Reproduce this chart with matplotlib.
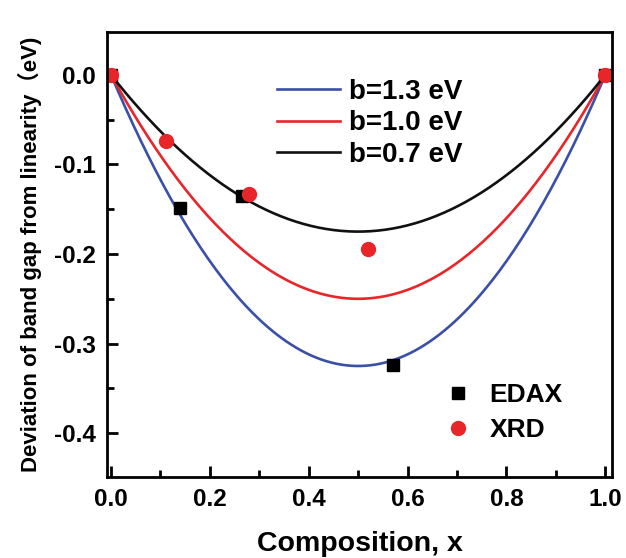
import numpy as np
import matplotlib
matplotlib.use("Agg")
import matplotlib.pyplot as plt
from matplotlib.ticker import MultipleLocator

plt.rcParams['font.family'] = ['Liberation Sans', 'Noto Sans CJK SC', 'DejaVu Sans']
plt.rcParams['font.weight'] = 'bold'

# bowing parameters (eV) for the model curves  dE = -b x (1 - x)
bowing = [1.3, 1.0, 0.7]
curve_labels = ["b=1.3 eV", "b=1.0 eV", "b=0.7 eV"]
curve_colors = ["#3a4fa8", "#e8262a", "#111111"]

edax_x = [0.0, 0.14, 0.265, 0.571, 1.0]
edax_y = [0.0, -0.149, -0.135, -0.324, 0.0]
xrd_x = [0.0, 0.111, 0.279, 0.52, 1.0]
xrd_y = [0.0, -0.074, -0.133, -0.194, 0.0]

xticks = [0.0, 0.2, 0.4, 0.6, 0.8, 1.0]
xticklabels = ["0.0", "0.2", "0.4", "0.6", "0.8", "1.0"]
yticks = [0.0, -0.1, -0.2, -0.3, -0.4]
yticklabels = ["0.0", "-0.1", "-0.2", "-0.3", "-0.4"]

fig = plt.figure(figsize=(6.26, 5.58), dpi=100)
ax = fig.add_axes([0.171, 0.145, 0.807, 0.798])

xs = np.linspace(0, 1, 201)
lines = []
for b, lab, c in zip(bowing, curve_labels, curve_colors):
    l, = ax.plot(xs, -b * xs * (1 - xs), color=c, lw=1.9, label=lab)
    lines.append(l)

s1, = ax.plot(edax_x, edax_y, 's', color='black', ms=9, ls='none', label='EDAX')
s2, = ax.plot(xrd_x, xrd_y, 'o', color='#e8262a', ms=10, ls='none', label='XRD')

ax.set_xlim(-0.008, 1.014)
ax.set_ylim(-0.449, 0.048)
ax.xaxis.set_minor_locator(MultipleLocator(0.1))
ax.yaxis.set_minor_locator(MultipleLocator(0.05))
ax.set_xticks(xticks)
ax.set_xticklabels(xticklabels)
ax.set_yticks(yticks)
ax.set_yticklabels(yticklabels)

ax.tick_params(which='both', direction='in', width=2, labelsize=17.5, pad=8)
ax.tick_params(which='major', length=8)
ax.tick_params(which='minor', length=5)
for lab in ax.get_xticklabels() + ax.get_yticklabels():
    lab.set_fontweight('bold')
for sp in ax.spines.values():
    sp.set_linewidth(2)

ax.set_xlabel("Composition, x", fontsize=20.5, fontweight='bold', labelpad=14)
ax.set_ylabel("Deviation of band gap from linearity\uff08eV)", fontsize=16,
              fontweight='bold', labelpad=9)

leg1 = ax.legend(handles=lines, loc='upper left', bbox_to_anchor=(0.297, 0.938),
                 frameon=False, handlelength=2.3, handletextpad=0.3,
                 labelspacing=0.2, borderpad=0.2,
                 prop={'weight': 'bold', 'size': 20})
ax.add_artist(leg1)
ax.legend(handles=[s1, s2], loc='upper left', bbox_to_anchor=(0.632, 0.252),
          frameon=False, handlelength=1.0, handletextpad=0.7, labelspacing=0.4,
          borderpad=0.2, prop={'weight': 'bold', 'size': 19})

fig.savefig("out.png", dpi=100)
